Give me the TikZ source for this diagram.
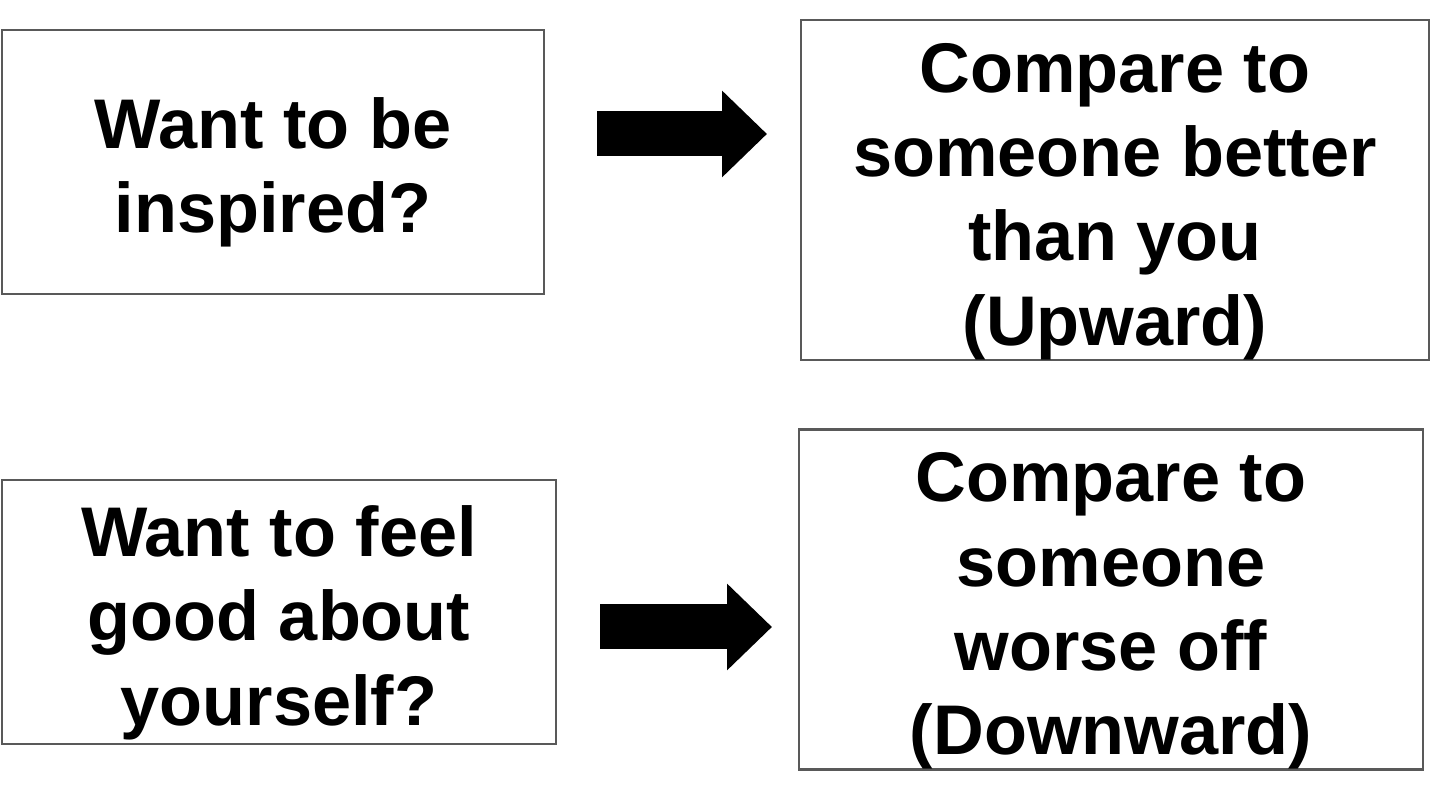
\documentclass[tikz,border=0pt]{standalone}
\usepackage{fontspec}
\setmainfont{Liberation Sans}
\usetikzlibrary{arrows.meta}
\newcommand{\firstline}{\rule{0pt}{20.5pt}}
\tikzset{
  choicebox/.style={draw=black!65,line width=0.25mm,inner sep=0pt,align=center,
    font=\fontsize{20}{24}\selectfont\bfseries},
  bigarrow/.style={line width=4.5mm,-{Triangle[length=4.5mm,width=8.4mm]}}
}
\begin{document}
\begin{tikzpicture}
    \useasboundingbox (0,0) rectangle (14.4,8.12);
    %% top row
    \node[choicebox,minimum width=5.42cm,minimum height=2.64cm] (inspired) at (2.73,6.50) {\firstline Want to be\\inspired?};
    \node[choicebox,minimum width=6.28cm,minimum height=3.36cm] (upward) at (11.15,6.22) {\firstline Compare to\\someone better\\than you\\(Upward)};
    %% bottom row
    \node[choicebox,minimum width=5.54cm,minimum height=2.64cm] (feelgood) at (2.79,2.00) {\firstline Want to feel\\good about\\yourself?};
    \node[choicebox,minimum width=6.24cm,minimum height=3.37cm] (downward) at (11.11,2.125) {\firstline Compare to\\someone\\worse off\\(Downward)};
    %% arrows
    \coordinate (upS) at (5.97,6.78);
    \coordinate (upE) at (7.67,6.78);
    \coordinate (downS) at (6.00,1.85);
    \coordinate (downE) at (7.72,1.85);
    \draw[bigarrow] (upS) -- (upE);
    \draw[bigarrow] (downS) -- (downE);
\end{tikzpicture}
\end{document}
